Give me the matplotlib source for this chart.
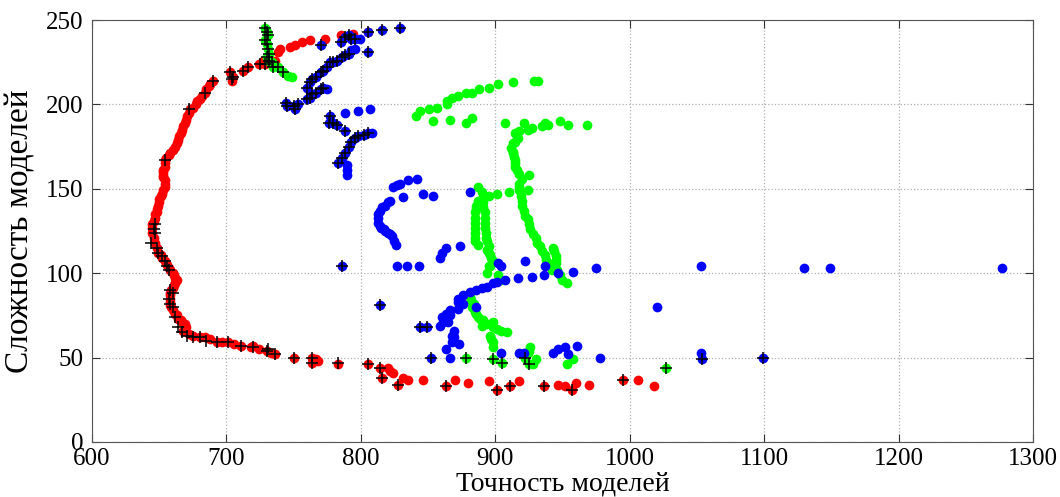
import numpy as np
import matplotlib.pyplot as plt

plt.rcParams['font.family'] = ['Liberation Serif', 'DejaVu Serif']

# red series (accuracy, complexity)
red_x = [690, 688, 687, 685, 684, 682, 680, 678, 677, 675, 673, 672, 671, 670, 669, 668,
         667, 666, 665, 664, 663, 662, 660, 658, 657, 655, 654, 654, 654, 653, 653, 653,
         653, 654, 654, 654, 653, 652, 651, 650, 650, 649, 648, 648, 647, 647, 646, 645,
         645, 645, 646, 647, 648, 649, 651, 652, 654, 655, 656, 657, 658, 660, 661, 662,
         663, 662, 661, 660, 659, 658, 658, 658, 658, 658, 659, 660, 662, 663, 664, 666,
         667, 669, 670, 668, 672, 675, 680, 684, 688, 693, 697, 701, 706, 711, 718, 720,
         724, 730, 733, 736, 750, 764, 767, 764, 768, 783, 805, 814, 820, 822, 824, 816,
         828, 831, 835, 846, 863, 870, 880, 895, 901, 911, 918, 936, 947, 952, 957, 960,
         970, 995, 1006, 1018, 703, 704, 705, 712, 716, 724, 727, 736, 738, 740, 747, 751,
         756, 762, 773, 785, 794, 805, 729]
red_y = [214, 212, 211, 209, 207, 205, 203, 202, 200, 198, 197, 195, 193, 191, 189, 187,
         185, 183, 181, 179, 177, 175, 173, 171, 170, 168, 167, 165, 163, 161, 160, 158,
         157, 155, 153, 151, 149, 147, 146, 144, 142, 140, 138, 136, 135, 133, 131, 129,
         127, 124, 121, 118, 115, 112, 111, 109, 107, 106, 105, 103, 102, 100, 99, 97,
         96, 94, 93, 91, 90, 88, 87, 85, 83, 81, 80, 78, 76, 75, 73, 72,
         71, 70, 68, 66, 64, 63, 62, 62, 61, 59, 59, 59, 58, 57, 56, 57,
         55, 54, 53, 52, 50, 50, 49, 47, 48, 46, 46, 44, 44, 42, 41, 38,
         34, 38, 37, 37, 33, 37, 35, 36, 31, 33, 36, 33, 34, 33, 31, 35,
         34, 37, 37, 33, 219, 214, 216, 220, 222, 224, 226, 226, 231, 233, 234, 235,
         237, 238, 239, 241, 242, 243, 224]

# green series
green_x = [841, 844, 851, 857, 864, 864, 868, 872, 878, 883, 888, 895, 902, 913, 929, 932,
           854, 866, 878, 883, 907, 921, 937, 939, 948, 954, 968,
           915, 918, 924, 927, 935, 917, 915, 913, 912, 913, 913, 914, 915, 915, 915, 916,
           918, 920, 925, 918, 918, 918, 919, 924, 920, 920, 921, 922, 924, 925, 926, 928,
           930, 931, 933, 935, 937, 938, 939, 941, 942, 943, 944, 945, 945, 945, 946, 948,
           950, 953,
           887, 890, 891, 887, 886, 886, 885, 885, 885, 885, 885, 885, 885, 887, 891, 891,
           892, 892, 892, 892, 893, 893, 894, 895, 894, 895, 896, 897, 898, 896, 895, 894,
           895, 901, 910, 902, 904,
           881, 881, 882, 884, 883, 884, 885, 886, 887, 889, 891, 890, 894, 898, 898, 901,
           904, 909, 896, 897, 898, 898,
           926, 925, 924, 930, 928, 958, 953, 878, 898, 905, 922, 925, 1027,
           729, 730, 731, 729, 730, 731, 732, 730, 732, 734, 735, 738, 742, 746, 749]
green_y = [193, 196, 197, 198, 200, 202, 204, 205, 207, 207, 209, 210, 212, 213, 214, 214,
           190, 191, 189, 192, 189, 189, 189, 188, 190, 188, 188,
           183, 184, 185, 186, 187, 180, 178, 177, 174, 172, 171, 169, 167, 165, 163, 161,
           159, 156, 158, 153, 151, 149, 146, 149, 143, 140, 137, 134, 132, 129, 126, 123,
           121, 118, 116, 113, 111, 108, 106, 104, 102, 115, 113, 110, 108, 106, 102, 99,
           96, 94,
           151, 148, 145, 143, 140, 138, 136, 133, 130, 127, 124, 121, 119, 117, 142, 139,
           136, 133, 130, 127, 124, 121, 119, 116, 114, 112, 111, 109, 107, 104, 104, 100,
           146, 147, 148, 99, 96,
           88, 86, 84, 82, 80, 79, 77, 76, 74, 73, 72, 69, 70, 71, 68, 67,
           66, 65, 63, 61, 59, 56,
           56, 54, 53, 49, 46, 49, 46, 50, 49, 47, 50, 46, 44,
           245, 243, 241, 238, 236, 233, 230, 228, 226, 225, 222, 222, 219, 217, 216]

# blue series
blue_x = [744, 745, 750, 751, 753, 760, 762, 764, 767, 770, 772, 775, 760, 762, 764, 767,
          770, 772, 775, 777, 779, 782, 786, 788, 791, 793, 796, 805, 785, 788, 791, 793,
          796, 799, 805, 816, 829, 770,
          777, 779, 776, 782, 788, 783, 786, 788, 791, 793, 796, 798, 802, 805,
          790, 790, 790, 788, 798, 807, 808,
          824, 827, 829, 835, 842, 846, 831, 854, 881, 822, 820, 818, 816, 814, 813, 813,
          813, 814, 815, 817, 818, 820, 822, 823, 825, 826, 827, 834, 843, 786, 814,
          859, 860, 863, 874, 902, 904, 922, 937, 936, 947, 958, 975, 927, 917, 907, 901,
          898, 894, 890, 886, 881, 876, 872, 872, 876, 872, 866, 863, 860, 861, 865, 866,
          859, 886, 869, 868, 869, 868, 873, 863, 866, 844, 849, 852,
          904, 918, 921, 943, 947, 952, 961, 954, 978, 1020, 1053, 1053, 1054, 1099,
          1130, 1149, 1277]
blue_y = [201, 199, 199, 197, 200, 203, 204, 206, 207, 209, 210, 209, 210, 213, 215, 216,
          219, 220, 222, 225, 225, 226, 228, 229, 230, 232, 233, 231, 237, 240, 241, 239,
          239, 239, 243, 244, 245, 235,
          193, 189, 189, 188, 184, 165, 168, 171, 175, 178, 180, 181, 182, 183,
          164, 161, 158, 195, 196, 197, 183,
          151, 152, 153, 155, 156, 147, 145, 146, 148, 143, 142, 140, 139, 137, 135, 133,
          130, 128, 127, 126, 125, 124, 123, 122, 119, 117, 104, 104, 104, 104, 81,
          109, 112, 115, 116, 106, 104, 107, 104, 99, 100, 101, 103, 98, 97, 96, 95,
          94, 92, 91, 90, 89, 87, 85, 83, 82, 79, 78, 76, 74, 71, 71, 75,
          69, 80, 66, 63, 62, 59, 58, 55, 50, 68, 68, 50,
          53, 53, 53, 53, 55, 56, 57, 52, 50, 80, 104, 53, 49, 50,
          103, 103, 103]

# black "+" marks over selected models
plus_x = [690, 684, 672, 654, 647, 646, 647, 644, 648, 649, 652, 654, 656, 657, 658, 660,
          657, 658, 660, 662, 664, 667, 671, 675, 680, 685, 693, 701, 711, 720, 730, 731,
          736, 750, 764, 764, 783, 805, 814, 816, 828, 863, 901, 911, 936, 957, 995,
          703, 704, 705, 712, 716, 725, 729,
          729, 730, 731, 729, 730, 731, 732, 730, 732, 734, 735, 738, 742,
          878, 898, 905, 922, 925, 1027,
          744, 745, 750, 751, 753, 760, 762, 764, 767, 770, 772, 760, 762, 764, 767,
          770, 772, 775, 777, 779, 782, 786, 788, 791, 805, 785, 788, 791, 793,
          796, 805, 816, 829, 770,
          777, 779, 776, 782, 788, 783, 786, 788, 791, 793, 796, 798, 802, 805,
          786, 814, 844, 849, 852, 1054, 1099]
plus_y = [214, 207, 197, 167, 129, 126, 124, 118, 115, 112, 110, 107, 104, 102, 90, 88,
          85, 82, 80, 74, 68, 65, 63, 62, 62, 60, 59, 59, 57, 56, 54, 55,
          52, 50, 50, 47, 47, 46, 44, 38, 34, 33, 31, 33, 33, 31, 37,
          219, 215, 216, 220, 222, 224, 224,
          245, 243, 241, 238, 236, 233, 230, 228, 226, 225, 222, 222, 219,
          50, 49, 47, 50, 46, 44,
          201, 199, 199, 197, 200, 203, 204, 206, 207, 209, 210, 210, 213, 215, 216,
          219, 220, 222, 225, 225, 226, 228, 229, 230, 231, 237, 240, 241, 239,
          239, 243, 244, 245, 235,
          193, 189, 189, 188, 184, 165, 168, 171, 175, 178, 180, 181, 182, 183,
          104, 81, 68, 68, 50, 49, 50]

fig = plt.figure(figsize=(10.6, 4.97), dpi=100)
ax = fig.add_axes([0.0868, 0.1107, 0.8877, 0.849])

ax.plot(red_x, red_y, 'o', color=(1, 0, 0), markersize=7, markeredgewidth=0)
ax.plot(green_x, green_y, 'o', color=(0, 1, 0), markersize=7, markeredgewidth=0)
ax.plot(blue_x, blue_y, 'o', color=(0, 0, 1), markersize=7, markeredgewidth=0)
ax.plot(plus_x, plus_y, '+', color='black', markersize=9, markeredgewidth=1.1)

ax.set_xlim(600, 1300)
ax.set_ylim(0, 250)
ax.set_xticks(np.arange(600, 1301, 100))
ax.set_yticks(np.arange(0, 251, 50))
ax.grid(True, linestyle=':', color='#b0b0b0', linewidth=0.9)
ax.set_axisbelow(True)
ax.tick_params(direction='in', length=6, width=0.8, top=True, right=True,
               labelsize=18, colors='#333333', labelcolor='black')
ax.tick_params(axis='x', pad=4)
ax.tick_params(axis='y', pad=6)
for s in ax.spines.values():
    s.set_color('#555555')
    s.set_linewidth(0.8)

ax.set_xlabel('Точность моделей', fontsize=20)
ax.xaxis.set_label_coords(0.5, -0.069)
ax.set_ylabel('Сложность моделей', fontsize=24, labelpad=8)

fig.savefig('out.png', dpi=100)
